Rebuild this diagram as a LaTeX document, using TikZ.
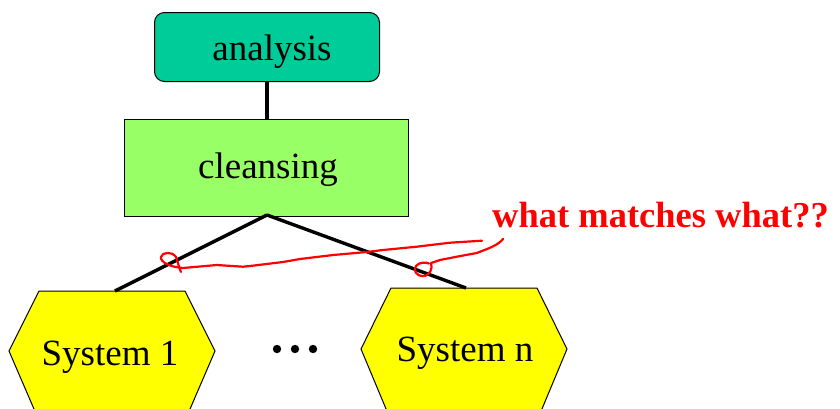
\documentclass[tikz,border=0pt]{standalone}
\usepackage{fontspec}
\setmainfont{Liberation Serif}
\begin{document}
\begin{tikzpicture}[x=1pt,y=-1pt,
  every node/.style={font=\fontsize{37}{40}\selectfont, inner sep=0pt},
  stagebox/.style={draw=black, line width=1pt, anchor=north west},
  label/.style={anchor=base},
  link/.style={line width=3.4pt, line cap=butt},
  sysshape/.style={draw=black, line width=1pt, fill=sysyellow},
  scribble/.style={draw=red, line width=2.2pt, line cap=round, line join=round}]
\definecolor{analysisgreen}{RGB}{0,204,153}
\definecolor{cleangreen}{RGB}{153,255,102}
\definecolor{sysyellow}{RGB}{255,255,0}
\useasboundingbox (0,0) rectangle (840,408);

% stages
\node[stagebox, fill=analysisgreen, rounded corners=10pt,
      minimum width=225pt, minimum height=69pt] (analysis) at (154,12) {};
\node[label] at (272,60) (analysislabel) {analysis};
\node[stagebox, fill=cleangreen,
      minimum width=284pt, minimum height=97pt] (cleansing) at (124,119) {};
\node[label] at (268,178) (cleansinglabel) {cleansing};

% source systems
\draw[sysshape] (39,291) -- (185,291) -- (215,351) -- (187,416) -- (37,416) -- (9,351) -- cycle;
\coordinate (s1top) at (115,291);
\node[label] (sys1) at (110,365) {System 1};
\draw[sysshape] (391,288) -- (537,288) -- (567,349) -- (539,416) -- (389,416) -- (361,349) -- cycle;
\coordinate (sntop) at (466,288);
\node[label] (sysn) at (465,361) {System n};

% ellipsis
\foreach \dx [count=\i] in {277,295,313}
  \fill (\dx,349) circle (4.2pt) coordinate (dot\i);

% connectors
\coordinate (apex) at (267,215);
\draw[link] (analysis.south -| 267,0) -- (cleansing.north -| 267,0);
\draw[link] (apex) -- (s1top);
\draw[link] (apex) -- (sntop);

% annotation
\node[text=red, font=\fontsize{36.5}{40}\selectfont\bfseries, anchor=base west]
  (question) at (492,227) {what matches what??};
\draw[scribble] (482,240.7) -- (450,242.7) -- (416.7,246.7) -- (383,250) -- (366.7,252)
  -- (333,255) -- (300,259) -- (283,262) -- (250,266) -- (243,266.7) -- (216.7,265)
  -- (183,268) .. controls (170,267) and (160,262) .. (161,257)
  .. controls (162,252) and (172,251) .. (176,257)
  .. controls (178,262) and (179,268) .. (181,272);
\draw[scribble] (503,239) .. controls (498,245) and (490,248) .. (476.7,253)
  -- (456.7,256.7) -- (440,260) -- (431,263)
  .. controls (433,268) and (430,276) .. (423,276)
  .. controls (416,276) and (413,270) .. (416,266)
  .. controls (419,262) and (426,262) .. (429,263.5);
\end{tikzpicture}
\end{document}
